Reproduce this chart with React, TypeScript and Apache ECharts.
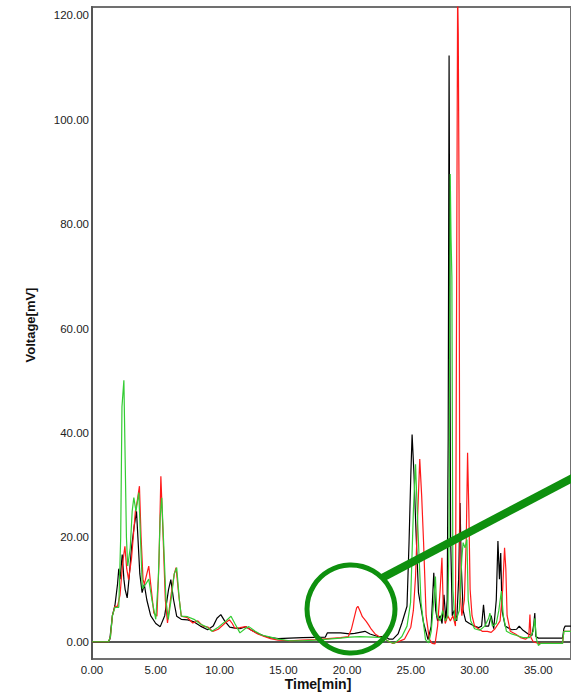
import React, { useEffect, useRef } from "react";
import * as echarts from "echarts";

const xTickValues = [0, 5, 10, 15, 20, 25, 30, 35];
const yTickValues = [0, 20, 40, 60, 80, 100, 120];

const blackT = [0, 1.27, 1.4, 1.6, 1.8, 2.0, 2.1, 2.2, 2.37, 2.5, 2.6, 2.76, 2.9, 3.1, 3.3, 3.49, 3.6, 3.75, 3.93, 4.1, 4.3, 4.6, 5.0, 5.35, 5.7, 6.0, 6.18, 6.4, 6.64, 7.0, 7.5, 8.0, 8.5, 9.07, 9.5, 9.8, 10.1, 10.4, 10.8, 11.2, 11.6, 12.07, 12.5, 13.0, 13.5, 14.0, 14.6, 15.5, 16.5, 17.5, 18.3, 18.45, 19.5, 20.2, 20.6, 21.0, 21.4, 21.8, 22.4, 23.0, 23.3, 23.6, 24.0, 24.3, 24.7, 24.86, 25.0, 25.1, 25.25, 25.4, 25.6, 26.0, 26.35, 26.6, 26.8, 26.95, 27.1, 27.3, 27.45, 27.6, 27.75, 27.85, 27.93, 28.0, 28.06, 28.12, 28.25, 28.4, 28.6, 28.75, 28.86, 28.95, 29.1, 29.3, 29.6, 30.0, 30.3, 30.55, 30.7, 30.85, 31.1, 31.3, 31.5, 31.7, 31.83, 31.95, 32.05, 32.15, 32.4, 32.9, 33.3, 33.5, 33.8, 34.2, 34.5, 34.65, 34.72, 34.8, 35.0, 36.9, 37.0, 37.1, 37.6];
const blackV = [0, 0, 0.5, 5, 7, 11, 14, 12, 16.7, 12, 10, 8.4, 12, 18, 22, 25, 20, 13, 9.4, 11, 8, 5, 3.5, 2.9, 5, 10, 11.9, 8, 4.9, 4.3, 4.2, 3.8, 3.0, 2.3, 3.0, 4.5, 5.2, 4, 2.8, 2.6, 2.5, 2.9, 2.2, 1.6, 1.1, 0.8, 0.6, 0.7, 0.8, 0.85, 0.9, 1.7, 1.7, 1.5, 1.6, 1.8, 2.0, 1.5, 1.0, 1.0, 0.5, 0.5, 1.5, 3.6, 6.8, 19, 32, 39.7, 32, 21.5, 9.4, 3.6, 0.4, 3, 13.2, 6, 4, 5, 3.5, 9, 4, 8, 38.8, 112.3, 63, 20, 5, 6, 4, 12, 26.6, 15, 6, 4, 3.5, 3, 2.7, 3, 7.1, 3, 3, 5, 2.5, 8, 19.3, 12, 17, 6, 3, 2.3, 2.4, 3.0, 2.2, 1.5, 1.2, 3.5, 5.5, 1.0, 0.7, 0.7, 2.5, 3, 3];

const redT = [0, 1.3, 1.45, 1.6, 1.8, 2.0, 2.2, 2.4, 2.58, 2.72, 2.87, 3.1, 3.4, 3.55, 3.72, 3.85, 4.0, 4.1, 4.3, 4.45, 4.65, 4.85, 5.09, 5.25, 5.4, 5.55, 5.75, 5.92, 6.2, 6.45, 6.59, 6.8, 7.0, 7.5, 7.9, 8.3, 8.7, 9.1, 9.47, 9.9, 10.4, 10.78, 11.0, 11.2, 11.6, 12.07, 12.5, 13.0, 13.5, 14.0, 14.6, 15.5, 16.5, 17.5, 18.5, 19.5, 20.1, 20.35, 20.6, 20.75, 20.85, 21.0, 21.2, 21.5, 21.7, 21.9, 22.2, 22.5, 23.0, 23.3, 23.6, 24.0, 24.5, 25.0, 25.2, 25.37, 25.55, 25.7, 25.85, 26.0, 26.2, 26.45, 26.67, 26.9, 27.1, 27.3, 27.44, 27.55, 27.7, 27.9, 28.1, 28.3, 28.5, 28.6, 28.67, 28.72, 28.78, 28.85, 29.0, 29.2, 29.35, 29.45, 29.55, 29.65, 29.8, 30.0, 30.3, 30.6, 31.0, 31.3, 31.6, 32.0, 32.2, 32.35, 32.45, 32.55, 32.8, 33.2, 33.6, 34.0, 34.25, 34.34, 34.42, 34.6, 35.0, 36.9, 37.0, 37.6];
const redV = [0, 0, 1, 5, 6.8, 6.8, 9, 15, 18.3, 14, 11.9, 16, 25, 27, 29.8, 20, 12, 11, 13, 14.5, 10, 5.5, 4.9, 15, 31.7, 22, 8, 3.6, 9, 13, 14.2, 9, 4.9, 4.6, 3.6, 4.0, 3.0, 2.8, 2.0, 2.4, 3.5, 4.2, 3.5, 2.6, 2.7, 2.9, 2.2, 1.5, 1.0, 0.6, 0.3, 0.2, 0.3, 0.4, 0.6, 0.8, 1.0, 2.5, 5, 6.5, 6.8, 6.0, 4.8, 3.9, 3.2, 2.4, 1.5, 1.0, 0.5, 0, -0.3, 0, 0.5, 2.8, 6, 12.5, 25, 35, 28, 19, 5, 0.5, -0.3, -0.4, 3, 10, 16.1, 6, 3.5, 5, 4, 5, 3, 73.7, 125, 116.5, 86, 10, 5, 8, 20, 36.2, 25, 10, 5, 3, 2.5, 2, 2, 1.8, 2.5, 4, 10, 18, 14, 5, 2, 1.5, 0.8, 0.5, 1, 5.2, 0.8, 0, -0.3, -0.3, 2, 2];

const greenT = [0, 1.3, 1.45, 1.6, 1.8, 2.1, 2.25, 2.35, 2.5, 2.6, 2.7, 2.8, 3.0, 3.15, 3.28, 3.45, 3.67, 3.8, 3.95, 4.2, 4.45, 4.7, 5.0, 5.2, 5.35, 5.47, 5.6, 5.8, 5.98, 6.2, 6.45, 6.64, 6.85, 7.0, 7.5, 8.0, 8.5, 9.0, 9.4, 9.9, 10.5, 10.9, 11.2, 11.6, 12.0, 12.3, 12.8, 13.3, 14.0, 14.6, 15.5, 16.5, 17.5, 18.5, 19.5, 20.2, 21.0, 22.0, 22.8, 23.3, 23.7, 24.0, 24.3, 24.7, 24.98, 25.2, 25.37, 25.55, 25.8, 26.15, 26.4, 26.6, 26.8, 26.93, 27.05, 27.3, 27.5, 27.7, 27.9, 28.0, 28.09, 28.15, 28.22, 28.3, 28.45, 28.6, 28.8, 29.0, 29.1, 29.25, 29.4, 29.5, 29.7, 30.0, 30.4, 30.8, 31.1, 31.2, 31.4, 31.7, 31.9, 32.1, 32.25, 32.5, 32.9, 33.3, 33.8, 34.3, 34.6, 34.72, 34.85, 35.0, 35.2, 36.9, 37.0, 37.6];
const greenV = [0, 0, 1, 5, 6.6, 6.6, 20, 45, 50.1, 35, 20, 14.5, 18, 25, 27.6, 25, 28.6, 20, 10.2, 11, 12, 8, 4.3, 12, 24, 27.6, 20, 8, 4.3, 8, 13, 14.2, 8, 4.9, 4.8, 4.3, 3.4, 2.8, 2.0, 2.8, 4.0, 4.9, 3.5, 1.7, 2.5, 2.9, 2.0, 1.3, 0.9, 0.5, 0.2, 0.2, 0.3, 0.5, 0.7, 0.9, 1.0, 0.9, 0.8, 0.0, -0.3, 0.3, 1, 3, 7.5, 25, 34, 22, 7.5, 0.4, -0.2, 2, 8, 12.5, 5, 4, 6, 4, 5, 20, 89.6, 77.8, 69.8, 10, 4, 4.5, 6, 16, 19, 18, 19.6, 8, 4, 2.5, 2.2, 3, 4.5, 5.5, 3, 3.5, 6, 9.7, 5, 2, 1.5, 1.2, 0.8, 0.8, 2, 4.5, 0.5, -0.7, -0.3, -0.3, 2, 2];

const pairs = (t: number[], v: number[]) => t.map((x, i) => [x, v[i]]);

export default function App() {
  const ref = useRef<HTMLDivElement>(null);
  useEffect(() => {
    if (!ref.current) return;
    const chart = echarts.init(ref.current, null, { renderer: "svg" });
    const font = "Liberation Sans, Arial, sans-serif";
    chart.setOption({
      animation: false,
      backgroundColor: "#ffffff",
      grid: {
        left: 92,
        top: 7,
        right: -5,
        bottom: 34,
        show: true,
        borderColor: "#707070",
        borderWidth: 2,
        backgroundColor: "transparent",
      },
      xAxis: {
        type: "value",
        min: 0,
        max: 37.56,
        axisLine: { show: true, lineStyle: { color: "#555", width: 2 } },
        axisTick: { show: false },
        splitLine: { show: false },
        axisLabel: {
          customValues: xTickValues,
          formatter: (v: number) => v.toFixed(2),
          color: "#222",
          fontSize: 11.5,
          fontFamily: font,
          margin: 5,
        },
      },
      yAxis: {
        type: "value",
        min: -3.3,
        max: 121.6,
        axisLine: { show: true, lineStyle: { color: "#555", width: 2 } },
        axisTick: { show: false },
        splitLine: { show: false },
        axisLabel: {
          customValues: yTickValues,
          formatter: (v: number) => v.toFixed(2),
          color: "#222",
          fontSize: 11.5,
          fontFamily: font,
          margin: 3,
        },
      },
      series: [
        {
          type: "line",
          data: pairs(blackT, blackV),
          showSymbol: false,
          lineStyle: { color: "#000000", width: 1.2 },
          silent: true,
        },
        {
          type: "line",
          data: pairs(redT, redV),
          showSymbol: false,
          lineStyle: { color: "#ff1a1a", width: 1.2 },
          silent: true,
        },
        {
          type: "line",
          data: pairs(greenT, greenV),
          showSymbol: false,
          lineStyle: { color: "#33cc33", width: 1.2 },
          silent: true,
        },
      ],
      graphic: [
        {
          type: "text",
          x: 30,
          y: 325,
          rotation: Math.PI / 2,
          style: {
            text: "Voltage[mV]",
            font: "bold 13px Liberation Sans, Arial, sans-serif",
            fill: "#111",
            align: "center",
            verticalAlign: "middle",
          },
        },
        {
          type: "text",
          x: 318,
          y: 684,
          style: {
            text: "Time[min]",
            font: "bold 14px Liberation Sans, Arial, sans-serif",
            fill: "#111",
            align: "center",
            verticalAlign: "middle",
          },
        },
        {
          type: "circle",
          shape: { cx: 351, cy: 609, r: 44 },
          style: { fill: "none", stroke: "#0e900e", lineWidth: 5 },
          z: 100,
        },
        {
          type: "line",
          shape: { x1: 382, y1: 578, x2: 580, y2: 474 },
          style: { stroke: "#0e900e", lineWidth: 8 },
          z: 100,
        },
      ],
    });
    return () => chart.dispose();
  }, []);
  return (
    <div
      ref={ref}
      style={{ position: "fixed", left: 0, top: 0, width: 571, height: 693 }}
    />
  );
}
